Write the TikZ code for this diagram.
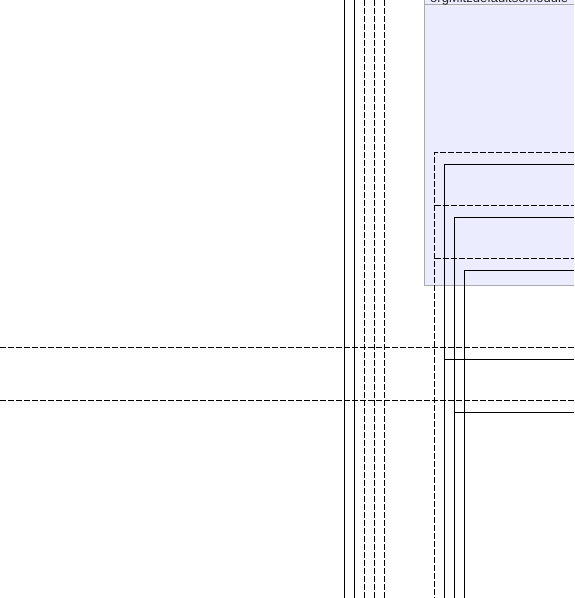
\documentclass[tikz,border=0pt]{standalone}
\usepackage{fontspec}
\setmainfont{Liberation Sans}
\definecolor{boxfill}{HTML}{ECECFF}
\definecolor{boxline}{HTML}{AAAAAA}
\tikzset{
  solidline/.style={line width=1pt, black},
  dashline/.style={line width=1pt, black, dash pattern=on 6pt off 2pt},
  boxedge/.style={line width=1pt, draw=boxline, fill=boxfill},
}
\begin{document}
\begin{tikzpicture}[x=1pt,y=-1pt]
\useasboundingbox (0,0) rectangle (574,598);
\begin{scope}
\clip (0,0) rectangle (574,598);
% box
\draw[boxedge] (424.5,-10) rectangle (590,285);
\draw[line width=1pt, draw=boxline] (424.5,4.5) -- (590,4.5);
\node[anchor=base west, inner sep=0pt, font=\fontsize{13}{15}\selectfont, text=black!85] (title) at (430,2) {orgMitzdefaultsomodule};
\end{scope}
% edges of picture
\coordinate (T1) at (344.5,0);   \coordinate (B1) at (344.5,598);
\coordinate (T2) at (354.5,0);   \coordinate (B2) at (354.5,598);
\coordinate (T3) at (364.5,0);   \coordinate (B3) at (364.5,598);
\coordinate (T4) at (374.5,0);   \coordinate (B4) at (374.5,598);
\coordinate (T5) at (384.5,0);   \coordinate (B5) at (384.5,598);
\draw[solidline] (T1) -- (B1);
\draw[solidline] (T2) -- (B2);
\draw[dashline] (T3) -- (B3);
\draw[dashline] (T4) -- (B4);
\draw[dashline] (T5) -- (B5);
% nested frames
\coordinate (fA) at (434.5,152.5); \coordinate (fAb) at (434.5,598); \coordinate (fAr) at (574,152.5);
\draw[dashline] (fAr) -- (fA) -- (fAb);
\coordinate (sA) at (444.5,164.5); \coordinate (sAb) at (444.5,598); \coordinate (sAr) at (574,164.5);
\draw[solidline] (sAr) -- (sA) -- (sAb);
\coordinate (dB) at (434.5,205.5); \coordinate (dBr) at (574,205.5);
\draw[dashline] (dB) -- (dBr);
\coordinate (sB) at (454.5,217.5); \coordinate (sBb) at (454.5,598); \coordinate (sBr) at (574,217.5);
\draw[solidline] (sBr) -- (sB) -- (sBb);
\coordinate (dC) at (434.5,258.5); \coordinate (dCr) at (574,258.5);
\draw[dashline] (dC) -- (dCr);
\coordinate (sC) at (464.5,270.5); \coordinate (sCb) at (464.5,598); \coordinate (sCr) at (574,270.5);
\draw[solidline] (sCr) -- (sC) -- (sCb);
% long horizontals
\coordinate (h1l) at (0,347.5); \coordinate (h1r) at (574,347.5);
\draw[dashline] (h1l) -- (h1r);
\coordinate (h2l) at (444.5,359.5); \coordinate (h2r) at (574,359.5);
\draw[solidline] (h2l) -- (h2r);
\coordinate (h3l) at (0,400.5); \coordinate (h3r) at (574,400.5);
\draw[dashline] (h3l) -- (h3r);
\coordinate (h4l) at (454.5,412.5); \coordinate (h4r) at (574,412.5);
\draw[solidline] (h4l) -- (h4r);
\end{tikzpicture}
\end{document}
